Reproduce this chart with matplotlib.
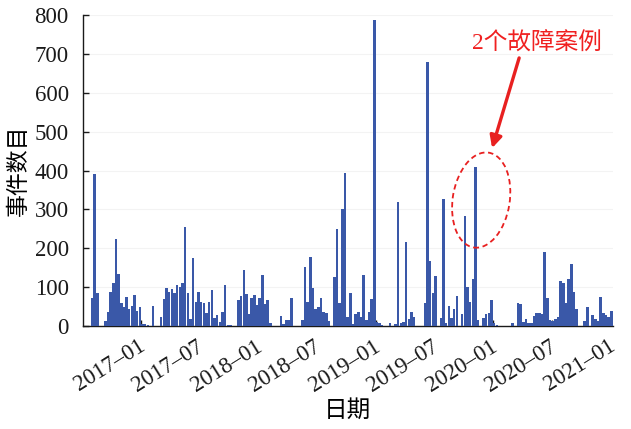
import matplotlib.pyplot as plt
import matplotlib.dates as mdates
import matplotlib.transforms as mtransforms
from matplotlib.patches import Ellipse
import numpy as np
import pandas as pd

plt.rcParams['font.family'] = ['Liberation Serif', 'Noto Sans CJK SC']
plt.rcParams['axes.unicode_minus'] = False

# 事件计数（按时间等宽分箱）
bin_start = '2016-07-30'
bin_end = '2021-01-07'
counts = [
    72, 390, 84, 0, 0, 13, 37, 88, 111, 224,
    135, 58, 50, 74, 45, 52, 81, 39, 50, 5,
    5, 3, 0, 52, 0, 0, 23, 69, 97, 88,
    95, 84, 105, 101, 111, 254, 84, 17, 176, 61,
    87, 63, 58, 33, 62, 92, 20, 29, 11, 36,
    105, 2, 2, 0, 0, 67, 77, 143, 82, 32,
    71, 79, 53, 73, 130, 56, 67, 7, 0, 0,
    0, 26, 5, 15, 15, 71, 0, 0, 0, 15,
    151, 63, 177, 99, 43, 50, 73, 35, 33, 13,
    0, 126, 249, 58, 300, 393, 24, 84, 4, 30,
    35, 23, 130, 15, 35, 69, 787, 11, 7, 3,
    0, 0, 9, 0, 5, 318, 9, 11, 215, 17,
    35, 22, 0, 0, 0, 60, 678, 167, 84, 129,
    0, 20, 328, 9, 51, 20, 45, 77, 0, 30,
    283, 101, 63, 120, 410, 15, 0, 20, 31, 34,
    67, 7, 3, 0, 0, 0, 0, 0, 9, 0,
    60, 57, 11, 18, 9, 9, 26, 34, 34, 31,
    190, 71, 15, 13, 18, 24, 116, 110, 60, 120,
    159, 88, 43, 0, 0, 14, 49, 0, 28, 19,
    14, 74, 33, 28, 22, 39,
]
tick_dates = pd.date_range('2017-01-01', '2021-01-01', freq='6MS')
y_ticks = np.arange(0, 801, 100)

edges = mdates.date2num(pd.date_range(bin_start, bin_end, periods=len(counts) + 1))
widths = np.diff(edges)

fig = plt.figure(figsize=(6.31, 4.29), dpi=100)
ax = fig.add_axes([0.131, 0.24, 0.8405, 0.725])

ax.bar(edges[:-1], counts, width=widths * 0.94, align='edge',
       color='#3a58a8', edgecolor='none', zorder=3)

ax.set_xlim(mdates.date2num(pd.Timestamp('2016-07-05')),
            mdates.date2num(pd.Timestamp('2021-01-08')))
ax.set_ylim(0, 800)
ax.set_yticks(y_ticks)
ax.set_xticks(mdates.date2num(tick_dates))
ax.xaxis.set_major_formatter(mdates.DateFormatter('%Y\u2013%m'))
ax.grid(axis='y', color='#f3f3f3', linewidth=0.8, zorder=0)

for side in ['top', 'right']:
    ax.spines[side].set_visible(False)
for side in ['left', 'bottom']:
    ax.spines[side].set_linewidth(1.0)
    ax.spines[side].set_color('#1a1a1a')

ax.tick_params(axis='both', direction='in', length=4, width=1.0,
               labelsize=16.5, colors='#1a1a1a')
ax.tick_params(axis='y', pad=10)
ax.tick_params(axis='x', pad=7)

# 日期标签斜放，右端略过刻度
shift = mtransforms.ScaledTranslation(6 / 72, 0, fig.dpi_scale_trans)
for lab in ax.get_xticklabels():
    lab.set_rotation(32)
    lab.set_ha('right')
    lab.set_transform(lab.get_transform() + shift)

ax.set_xlabel('日期', fontsize=17, labelpad=3)
ax.set_ylabel('事件数目', fontsize=16.5)
ax.yaxis.set_label_coords(-0.1, 0.5)

# 故障标注：文字、箭头和虚线椭圆
ax.text(0.857, 0.913, '2个故障案例', transform=ax.transAxes, fontsize=17,
        color='#f02020', ha='center', va='center')
ax.annotate('', xy=(0.772, 0.572), xytext=(0.823, 0.862),
            xycoords='axes fraction', textcoords='axes fraction',
            arrowprops=dict(arrowstyle='-|>', color='#e82020', lw=2.4,
                            mutation_scale=18, shrinkA=0, shrinkB=0))

cx, cy = ax.transAxes.transform((0.7514, 0.405)) / fig.dpi
ring = Ellipse((cx, cy), 0.57, 0.96, angle=-9, transform=fig.dpi_scale_trans,
               fill=False, edgecolor='#e82020', linestyle=(0, (3, 2)), lw=1.3)
fig.add_artist(ring)

fig.savefig('out.png', dpi=100)
